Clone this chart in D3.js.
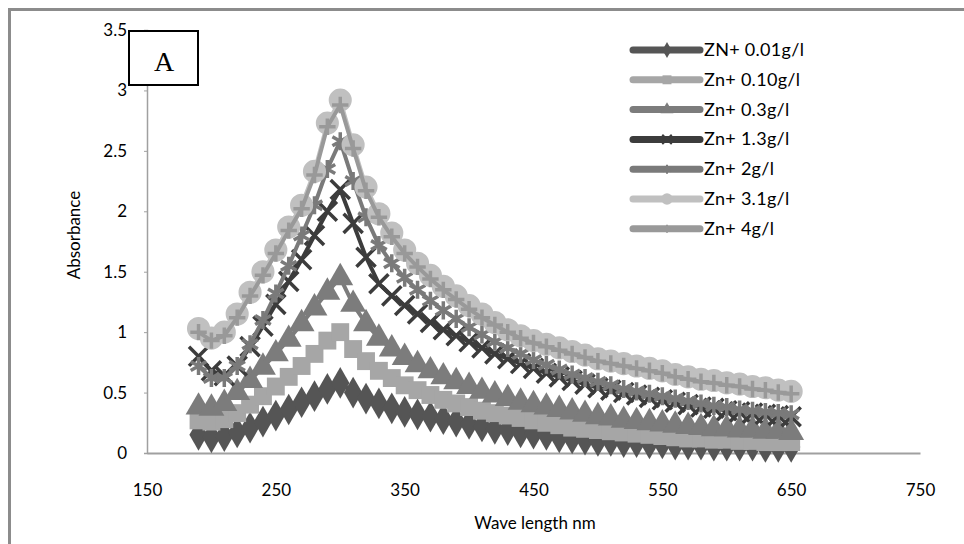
<!DOCTYPE html>
<html>
<head>
<meta charset="utf-8">
<script src="https://cdn.jsdelivr.net/npm/d3@7"></script>
<style>
  body { margin: 0; background: #fff; }
  svg { display: block; }
  .tick text { font-family: Lato, "Open Sans", sans-serif; }
</style>
</head>
<body>
<div id="chart"></div>
<script>
var W = 964, H = 544;

// wavelength (nm)
var wavelengths = [190, 200, 210, 220, 230, 240, 250, 260, 270, 280,
                   290, 300, 310, 320, 330, 340, 350, 360, 370, 380,
                   390, 400, 410, 420, 430, 440, 450, 460, 470, 480,
                   490, 500, 510, 520, 530, 540, 550, 560, 570, 580,
                   590, 600, 610, 620, 630, 640, 650];

var zn001 = [0.15, 0.13, 0.14, 0.17, 0.21, 0.26, 0.31, 0.36, 0.42, 0.47,
             0.53, 0.58, 0.50, 0.45, 0.41, 0.37, 0.34, 0.32, 0.30, 0.28,
             0.26, 0.24, 0.22, 0.20, 0.19, 0.17, 0.16, 0.15, 0.13, 0.12,
             0.11, 0.10, 0.10, 0.09, 0.09, 0.08, 0.08, 0.07, 0.07, 0.07,
             0.06, 0.06, 0.06, 0.06, 0.05, 0.05, 0.05];
var zn010 = [0.27, 0.26, 0.28, 0.33, 0.40, 0.47, 0.55, 0.63, 0.72, 0.82,
             0.93, 1.00, 0.86, 0.76, 0.68, 0.62, 0.56, 0.52, 0.48, 0.44,
             0.41, 0.38, 0.35, 0.33, 0.31, 0.29, 0.27, 0.25, 0.23, 0.21,
             0.20, 0.19, 0.18, 0.17, 0.16, 0.15, 0.14, 0.13, 0.12, 0.12,
             0.11, 0.11, 0.10, 0.10, 0.09, 0.09, 0.09];
var zn03  = [0.38, 0.37, 0.41, 0.50, 0.60, 0.71, 0.82, 0.94, 1.07, 1.20,
             1.33, 1.45, 1.23, 1.07, 0.95, 0.86, 0.79, 0.73, 0.68, 0.63,
             0.59, 0.55, 0.51, 0.48, 0.45, 0.42, 0.40, 0.38, 0.36, 0.34,
             0.32, 0.30, 0.29, 0.27, 0.26, 0.25, 0.24, 0.23, 0.22, 0.21,
             0.20, 0.20, 0.19, 0.19, 0.18, 0.18, 0.17];
var zn13  = [0.80, 0.68, 0.64, 0.72, 0.88, 1.05, 1.23, 1.42, 1.60, 1.80,
             2.00, 2.18, 1.90, 1.62, 1.40, 1.30, 1.22, 1.15, 1.08, 1.02,
             0.97, 0.92, 0.87, 0.82, 0.78, 0.74, 0.70, 0.66, 0.63, 0.60,
             0.57, 0.54, 0.52, 0.50, 0.48, 0.46, 0.44, 0.42, 0.40, 0.38,
             0.37, 0.35, 0.34, 0.33, 0.32, 0.31, 0.30];
var zn2   = [0.72, 0.62, 0.62, 0.72, 0.90, 1.10, 1.32, 1.55, 1.80, 2.05,
             2.35, 2.58, 2.25, 1.95, 1.72, 1.57, 1.45, 1.35, 1.26, 1.18,
             1.11, 1.04, 0.98, 0.92, 0.87, 0.82, 0.77, 0.73, 0.69, 0.65,
             0.62, 0.59, 0.56, 0.53, 0.51, 0.49, 0.47, 0.45, 0.43, 0.41,
             0.39, 0.38, 0.36, 0.35, 0.34, 0.33, 0.32];
var zn31  = [1.03, 0.95, 1.00, 1.15, 1.33, 1.50, 1.68, 1.87, 2.05, 2.33,
             2.73, 2.92, 2.55, 2.20, 1.98, 1.82, 1.68, 1.57, 1.47, 1.38,
             1.30, 1.22, 1.15, 1.08, 1.02, 0.97, 0.93, 0.90, 0.87, 0.84,
             0.81, 0.78, 0.76, 0.74, 0.72, 0.70, 0.68, 0.65, 0.63, 0.61,
             0.60, 0.58, 0.57, 0.55, 0.54, 0.52, 0.51];
var zn4   = [1.00, 0.93, 0.97, 1.12, 1.30, 1.47, 1.65, 1.84, 2.02, 2.30,
             2.70, 2.88, 2.52, 2.17, 1.95, 1.79, 1.65, 1.54, 1.44, 1.35,
             1.27, 1.19, 1.12, 1.06, 1.00, 0.95, 0.91, 0.88, 0.85, 0.82,
             0.79, 0.76, 0.74, 0.72, 0.70, 0.68, 0.66, 0.63, 0.61, 0.59,
             0.58, 0.56, 0.55, 0.53, 0.52, 0.50, 0.49];

var seriesNames = ["ZN+ 0.01g/l", "Zn+ 0.10g/l", "Zn+ 0.3g/l", "Zn+ 1.3g/l",
                   "Zn+ 2g/l", "Zn+ 3.1g/l", "Zn+ 4g/l"];
var seriesValues = [zn001, zn010, zn03, zn13, zn2, zn31, zn4];

var xTicks = [150, 250, 350, 450, 550, 650, 750];
var yTicks = [0, 0.5, 1, 1.5, 2, 2.5, 3, 3.5];

// look of each series
var styles = [
  { color: "#555555", symbol: d3.symbolDiamond,  size: 290, filled: true },
  { color: "#a6a6a6", symbol: d3.symbolSquare,   size: 320, filled: true },
  { color: "#7c7c7c", symbol: d3.symbolTriangle, size: 290, filled: true },
  { color: "#3c3c3c", symbol: d3.symbolX,        size: 240, filled: false },
  { color: "#7a7a7a", symbol: d3.symbolAsterisk, size: 230, filled: false },
  { color: "#c0c0c0", symbol: d3.symbolCircle,   size: 420, filled: true },
  { color: "#999999", symbol: d3.symbolPlus,     size: 90,  filled: false }
];

var margin = { left: 147, top: 30, right: 44, bottom: 91 };
var width = W - margin.left - margin.right,
    height = H - margin.top - margin.bottom;

var svg = d3.select("#chart")
  .append("svg")
    .attr("width", W)
    .attr("height", H);

// outer frame (runs off right and bottom edges)
svg.append("rect")
  .attr("x", 9.5).attr("y", 9.5)
  .attr("width", W + 20).attr("height", H + 20)
  .attr("fill", "#fff")
  .attr("stroke", "#8c8c8c")
  .attr("stroke-width", 3);

var g = svg.append("g")
  .attr("transform", "translate(" + margin.left + "," + margin.top + ")");

var x = d3.scaleLinear().domain([150, 750]).range([0, width]);
var y = d3.scaleLinear().domain([0, 3.5]).range([height, 0]);

// axes
var xAxis = g.append("g")
  .attr("transform", "translate(0," + height + ")")
  .call(d3.axisBottom(x).tickValues(xTicks).tickSize(0).tickPadding(31));
xAxis.select(".domain").attr("stroke", "#a0a0a0").attr("stroke-width", 2);
xAxis.selectAll("text").attr("font-size", "17px").attr("fill", "#000");

var yAxis = g.append("g")
  .call(d3.axisLeft(y).tickValues(yTicks).tickSize(3).tickPadding(17)
    .tickFormat(function(d) { return d; }));
yAxis.select(".domain").attr("stroke", "#a0a0a0").attr("stroke-width", 1.5);
yAxis.selectAll("line").attr("stroke", "#a0a0a0");
yAxis.selectAll("text").attr("font-size", "17px").attr("fill", "#000");

// axis titles
svg.append("text")
  .attr("x", 535).attr("y", 529)
  .attr("text-anchor", "middle")
  .attr("font-family", "Lato, 'Open Sans', sans-serif")
  .attr("font-size", "17px")
  .attr("fill", "#000")
  .text("Wave length nm");

svg.append("text")
  .attr("transform", "translate(80,235) rotate(-90)")
  .attr("text-anchor", "middle")
  .attr("font-family", "Lato, 'Open Sans', sans-serif")
  .attr("font-size", "17px")
  .attr("fill", "#000")
  .text("Absorbance");

// series
var line = d3.line()
  .x(function(d) { return x(d[0]); })
  .y(function(d) { return y(d[1]); });

seriesValues.forEach(function(vals, i) {
  var st = styles[i];
  var pts = wavelengths.map(function(w, k) { return [w, vals[k]]; });
  var sg = g.append("g").attr("class", "series s" + i);

  sg.append("path")
    .datum(pts)
    .attr("fill", "none")
    .attr("stroke", st.color)
    .attr("stroke-width", 4)
    .attr("stroke-linejoin", "round")
    .attr("d", line);

  sg.selectAll(".mark")
    .data(pts)
    .enter().append("path")
      .attr("class", "mark")
      .attr("transform", function(d) { return "translate(" + x(d[0]) + "," + y(d[1]) + ")"; })
      .attr("d", d3.symbol().type(st.symbol).size(st.size))
      .attr("fill", st.filled ? st.color : "none")
      .attr("stroke", st.filled ? "none" : st.color)
      .attr("stroke-width", st.filled ? 0 : 3.5);
});

// legend
var legend = svg.append("g").attr("transform", "translate(630,50)");
seriesNames.forEach(function(name, i) {
  var st = styles[i];
  var row = legend.append("g").attr("transform", "translate(0," + (i * 29.8) + ")");
  row.append("line")
    .attr("x1", 3).attr("x2", 70)
    .attr("stroke", st.color)
    .attr("stroke-width", 7)
    .attr("stroke-linecap", "round");
  row.append("path")
    .attr("transform", "translate(37,0)")
    .attr("d", d3.symbol().type(st.symbol).size(st.size * 0.25))
    .attr("fill", st.filled ? st.color : "none")
    .attr("stroke", st.filled ? "none" : st.color)
    .attr("stroke-width", st.filled ? 0 : 2);
  row.append("text")
    .attr("x", 74).attr("y", 6)
    .attr("font-family", "Lato, 'Open Sans', sans-serif")
    .attr("font-size", "18px")
    .attr("letter-spacing", "0.3px")
    .attr("fill", "#000")
    .text(name);
});

// panel label box
svg.append("rect")
  .attr("x", 129).attr("y", 31)
  .attr("width", 69).attr("height", 54)
  .attr("fill", "#fff")
  .attr("stroke", "#000")
  .attr("stroke-width", 2);
svg.append("text")
  .attr("x", 164).attr("y", 71)
  .attr("text-anchor", "middle")
  .attr("font-family", "'Liberation Serif', 'DejaVu Serif', serif")
  .attr("font-size", "28px")
  .attr("fill", "#000")
  .text("A");
</script>
</body>
</html>
